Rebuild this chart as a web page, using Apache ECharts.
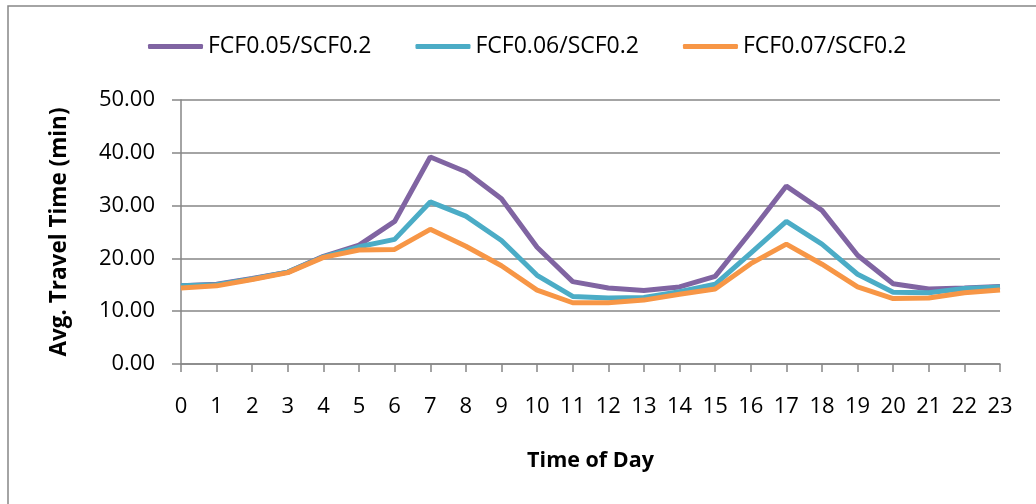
<!DOCTYPE html>
<html>
<head>
<meta charset="utf-8">
<script src="https://cdn.jsdelivr.net/npm/echarts@6/dist/echarts.min.js"></script>
<style>
  html, body { margin: 0; padding: 0; background: #ffffff; }
  #chart { width: 1036px; height: 504px; }
</style>
</head>
<body>
<div id="chart"></div>
<script>
// Hour of day (category axis)
const hours = ['0','1','2','3','4','5','6','7','8','9','10','11','12','13','14','15','16','17','18','19','20','21','22','23'];

// Average travel time (min) per hour for each FCF/SCF setting
const fcf005 = [14.8, 15.1, 16.2, 17.4, 20.4, 22.5, 27.0, 39.2, 36.4, 31.3, 22.1, 15.6, 14.4, 13.9, 14.6, 16.6, 25.0, 33.7, 29.1, 20.6, 15.2, 14.2, 14.4, 14.7];
const fcf006 = [14.8, 15.0, 16.1, 17.4, 20.3, 22.2, 23.6, 30.7, 28.0, 23.4, 16.8, 12.8, 12.5, 12.6, 13.7, 15.1, 21.0, 27.0, 22.7, 17.0, 13.6, 13.5, 14.3, 14.6];
const fcf007 = [14.4, 14.8, 16.0, 17.3, 20.2, 21.6, 21.7, 25.5, 22.3, 18.6, 14.0, 11.6, 11.6, 12.1, 13.2, 14.2, 19.0, 22.7, 18.9, 14.6, 12.4, 12.5, 13.5, 14.0];

const seriesNames = ['FCF0.05/SCF0.2', 'FCF0.06/SCF0.2', 'FCF0.07/SCF0.2'];
const seriesColors = ['#8064A2', '#4BACC6', '#F79646'];

const FONT = '"Open Sans", sans-serif';
const GRAY = '#868686';

const chart = echarts.init(document.getElementById('chart'), null, { renderer: 'canvas' });

function lineSeries(name, data, color) {
  return {
    name: name,
    type: 'line',
    data: data,
    symbol: 'none',
    color: color,
    lineStyle: { color: color, width: 5 },
    animation: false
  };
}

chart.setOption({
  animation: false,
  backgroundColor: '#ffffff',
  graphic: [{
    type: 'rect',
    shape: { x: 8, y: 6, width: 1060, height: 530 },
    style: { fill: 'none', stroke: GRAY, lineWidth: 1.5 },
    silent: true,
    z: -10
  }],
  legend: {
    left: 143,
    top: 30,
    icon: 'roundRect',
    itemWidth: 55,
    itemHeight: 5,
    itemGap: 44,
    textStyle: { fontFamily: FONT, fontSize: 23, color: '#000000' },
    data: seriesNames
  },
  grid: {
    left: 181,
    right: 36,
    top: 100,
    bottom: 140,
    containLabel: false
  },
  xAxis: {
    type: 'category',
    data: hours,
    boundaryGap: false,
    name: 'Time of Day',
    nameLocation: 'middle',
    nameGap: 86,
    nameTextStyle: { fontFamily: FONT, fontSize: 21.5, fontWeight: 'bold', color: '#000000' },
    axisLine: { lineStyle: { color: GRAY, width: 1.5 } },
    axisTick: { show: true, alignWithLabel: true, length: 8, lineStyle: { color: GRAY, width: 1.5 } },
    axisLabel: { fontFamily: FONT, fontSize: 22, color: '#000000', margin: 32, interval: 0 },
    splitLine: { show: false }
  },
  yAxis: {
    type: 'value',
    min: 0,
    max: 50,
    interval: 10,
    name: 'Avg. Travel Time (min)',
    nameLocation: 'middle',
    nameRotate: 90,
    nameGap: 110,
    nameTextStyle: { fontFamily: FONT, fontSize: 22.5, fontWeight: 'bold', color: '#000000' },
    axisLine: { show: true, lineStyle: { color: GRAY, width: 1.5 } },
    axisTick: { show: true, inside: false, length: 9, lineStyle: { color: GRAY, width: 1.5 } },
    axisLabel: {
      fontFamily: FONT, fontSize: 22, color: '#000000', margin: 26,
      formatter: function (v) { return v.toFixed(2); }
    },
    splitLine: { show: true, lineStyle: { color: GRAY, width: 1.5 } }
  },
  series: [
    lineSeries(seriesNames[0], fcf005, seriesColors[0]),
    lineSeries(seriesNames[1], fcf006, seriesColors[1]),
    lineSeries(seriesNames[2], fcf007, seriesColors[2])
  ]
});
</script>
</body>
</html>
